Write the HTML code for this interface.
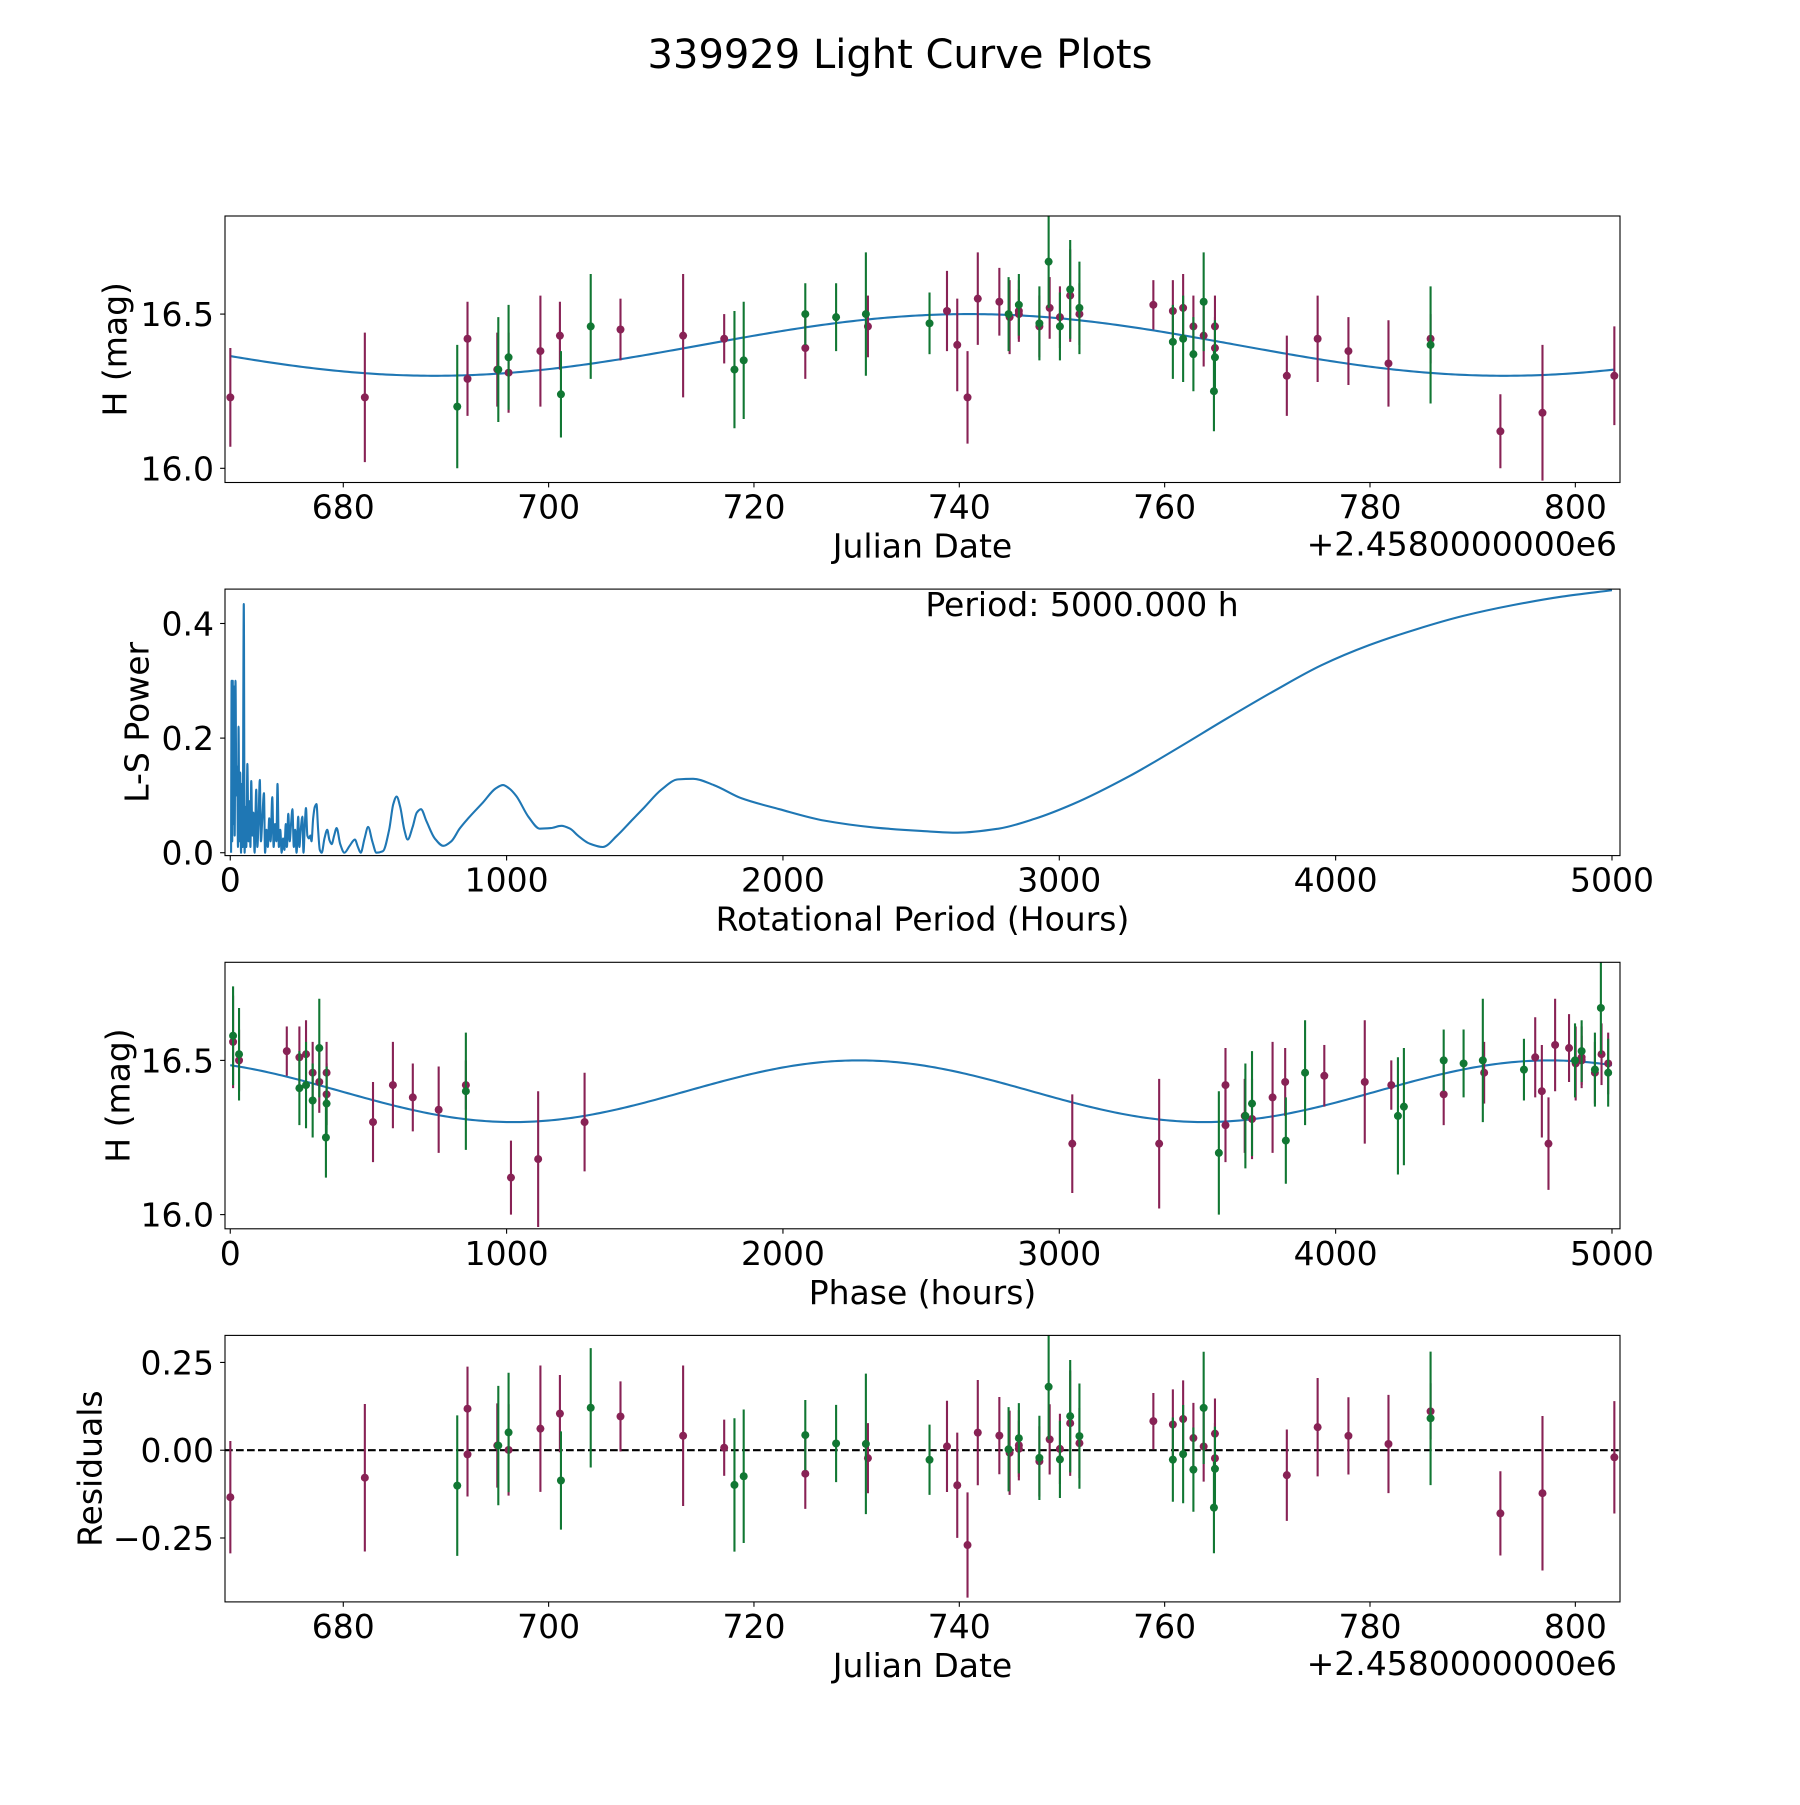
<!DOCTYPE html>
<html><head><meta charset="utf-8"><style>
html,body{margin:0;padding:0;background:#fff}
svg text{font-family:"DejaVu Sans","Liberation Sans",sans-serif;fill:#000}
</style></head><body>
<svg id="fig" width="1800" height="1800" viewBox="0 0 1800 1800" xmlns="http://www.w3.org/2000/svg">
<rect width="1800" height="1800" fill="#fff"/>
<text x="900" y="68" font-size="40" text-anchor="middle">339929 Light Curve Plots</text>
</svg>
<script>
// ---- data ----
const jdR = [669.0,682.1,692.1,692.1,695.0,696.1,699.2,701.1,707.0,713.1,717.1,725.0,731.1,738.8,739.8,740.8,741.8,743.9,744.9,745.8,745.8,747.8,748.8,749.8,750.8,751.7,758.9,760.8,761.8,762.8,763.8,764.9,764.9,771.9,774.9,777.9,781.8,785.9,792.7,796.8,803.8];
const magR = [16.23,16.23,16.42,16.29,16.32,16.31,16.38,16.43,16.45,16.43,16.42,16.39,16.46,16.51,16.40,16.23,16.55,16.54,16.49,16.51,16.50,16.46,16.52,16.49,16.56,16.50,16.53,16.51,16.52,16.46,16.43,16.46,16.39,16.30,16.42,16.38,16.34,16.42,16.12,16.18,16.30];
const errR = [.16,.21,.12,.12,.12,.13,.18,.11,.10,.20,.08,.10,.10,.13,.15,.15,.15,.11,.12,.10,.08,.10,.10,.10,.15,.10,.08,.10,.11,.10,.10,.10,.10,.13,.14,.11,.14,.08,.12,.22,.16];
const jdG = [691.1,695.1,696.1,701.2,704.1,718.1,719.0,725.0,728.0,730.9,737.1,744.8,745.8,747.8,748.7,749.8,750.8,751.7,760.8,761.8,762.8,763.8,764.9,764.8,785.9];
const magG = [16.20,16.32,16.36,16.24,16.46,16.32,16.35,16.50,16.49,16.50,16.47,16.50,16.53,16.47,16.67,16.46,16.58,16.52,16.41,16.42,16.37,16.54,16.36,16.25,16.40];
const errG = [.20,.17,.17,.14,.17,.19,.19,.10,.11,.20,.10,.12,.10,.12,.15,.11,.16,.15,.12,.14,.12,.16,.12,.13,.19];
const modelMean = 16.40, modelAmp = 0.10, modelTmax = 741.0, modelPeriodDays = 104.17;
const phaseRefJD = 669.0, phaseRefHours = 3047, foldPeriodHours = 5000;
const lsPeriods = [3,5,7,9,11,14,16,19,22,25,28,30,33,36,39,42,45,49,52,55,58,62,66,70,73,76,80,84,88,94,98,102,107,111,116,122,126,131,136,141,146,152,157,162,167,171,176,181,186,191,196,201,205,210,215,220,225,230,235,240,246,250,255,261,265,270,274,279,285,290,294,300,306,312,318,324,331,341,351,359,367,376,385,398,413,432,451,462,472,486,499,514,529,553,575,590,602,615,630,642,660,675,690,710,740,771,800,830,861,915,960,987,1010,1035,1080,1120,1160,1198,1230,1258,1300,1348,1400,1450,1498,1560,1620,1675,1750,1850,1987,2150,2332,2500,2633,2780,2910,3050,3255,3430,3602,3780,3948,4120,4293,4460,4641,4820,5000];
const lsPower = [0.0,0.30,0.02,0.30,0.05,0.29,0.03,0.30,0.1,0.15,0.01,0.22,0.02,0.14,0.0,0.12,0.01,0.434,0.0,0.08,0.01,0.155,0.02,0.09,0.01,0.125,0.03,0.07,0.0,0.11,0.01,0.05,0.127,0.02,0.06,0.104,0.0,0.04,0.01,0.06,0.02,0.097,0.01,0.05,0.02,0.12,0.01,0.04,0.0,0.025,0.005,0.05,0.01,0.068,0.02,0.05,0.076,0.01,0.04,0.0,0.063,0.01,0.04,0.063,0.0,0.05,0.078,0.03,0.025,0.03,0.02,0.06,0.08,0.085,0.04,0.005,0.0,0.025,0.04,0.022,0.015,0.03,0.043,0.015,0.0,0.012,0.023,0.01,0.0,0.025,0.045,0.02,0.0,0.003,0.04,0.085,0.098,0.08,0.04,0.023,0.045,0.07,0.076,0.055,0.025,0.012,0.02,0.042,0.06,0.088,0.112,0.118,0.112,0.099,0.062,0.042,0.043,0.047,0.042,0.03,0.016,0.01,0.03,0.055,0.079,0.11,0.128,0.129,0.118,0.095,0.076,0.056,0.044,0.038,0.035,0.042,0.059,0.085,0.134,0.183,0.233,0.283,0.327,0.362,0.39,0.413,0.432,0.447,0.458];
const jdTicks = [680,700,720,740,760,780,800];
const hoursTicks = [0,1000,2000,3000,4000,5000];
const magTicks = [16.0,16.5];
const powerTicks = [0.0,0.2,0.4];
const residTicks = [-0.25,0.0,0.25];

// ---- helpers ----
const NS = "http://www.w3.org/2000/svg";
const svg = document.getElementById('fig');
const COL_R = "#882255", COL_G = "#117733", COL_LINE = "#1f77b4";
const FS = 33;
function el(tag, attrs, parent){ const e=document.createElementNS(NS,tag); for(const k in attrs) e.setAttribute(k,attrs[k]); (parent||svg).appendChild(e); return e; }
function model(t){ return modelMean + modelAmp*Math.cos(2*Math.PI*(t-modelTmax)/modelPeriodDays); }
function phaseOf(t){ let p=((t-phaseRefJD)*24+phaseRefHours)%foldPeriodHours; if(p<0)p+=foldPeriodHours; return p; }
function jdOfPhase(p){ return phaseRefJD + (p-phaseRefHours)/24; }
function fmt(v,d){ const s=v.toFixed(d); return v<0 ? '\u2212'+s.slice(1) : s; }

const L=225, R=1620, H=266.5;
function makeAxes(idx, top, xmin, xmax, ymin, ymax, xticks, xdec, yticks, ydec, xlabel, ylabel, ylabelX, offsetText){
  const bottom = top+H;
  const sx = v => L + (v-xmin)/(xmax-xmin)*(R-L);
  const sy = v => bottom - (v-ymin)/(ymax-ymin)*H;
  const g = el('g',{});
  
  
  const cp = el('clipPath',{id:'clip'+idx},g);
  el('rect',{x:L,y:top,width:R-L,height:H},cp);
  const plot = el('g',{'clip-path':'url(#clip'+idx+')'},g);
  
  
  const frame = el('rect',{x:L,y:top,width:R-L,height:H,fill:'none',stroke:'#000','stroke-width':1.1},g);
  
  
  xticks.forEach(v=>{
    const x=sx(v);
    el('line',{x1:x,x2:x,y1:bottom,y2:bottom+4.9,stroke:'#000','stroke-width':1.1},g);
    const t=el('text',{x:x,y:bottom+36,'font-size':FS,'text-anchor':'middle'},g);
    t.textContent=fmt(v,xdec);
    
    
  });
  yticks.forEach(v=>{
    const y=sy(v);
    el('line',{x1:L-4.9,x2:L,y1:y,y2:y,stroke:'#000','stroke-width':1.1},g);
    const t=el('text',{x:214,y:y+12,'font-size':FS,'text-anchor':'end'},g);
    t.textContent=fmt(v,ydec);
    
    
  });
  const xl=el('text',{x:(L+R)/2,y:bottom+75,'font-size':FS,'text-anchor':'middle'},g);
  xl.textContent=xlabel;
  
  
  const cy=(top+bottom)/2;
  const yl=el('text',{x:ylabelX,y:cy,'font-size':FS,'text-anchor':'middle','dominant-baseline':'central',transform:'rotate(-90 '+ylabelX+' '+cy+')'},g);
  yl.textContent=ylabel;
  
  
  if(offsetText){
    const ot=el('text',{x:1617,y:bottom+73,'font-size':FS,'text-anchor':'end'},g);
    ot.textContent=offsetText;
    
    
  }
  return {sx,sy,plot,g,top,bottom};
}
function drawPoints(ax, xs, ys, es, col, name){
  xs.forEach((xv,i)=>{
    const x=ax.sx(xv), y=ax.sy(ys[i]);
    const bar=el('line',{x1:x,x2:x,y1:ax.sy(ys[i]+es[i]),y2:ax.sy(ys[i]-es[i]),stroke:col,'stroke-width':2.1},ax.plot);
    
    
    const c=el('circle',{cx:x,cy:y,r:4,fill:col},ax.plot);
    
    
  });
}
function curvePath(ax, fx, x0, x1, n){
  let d='';
  for(let i=0;i<=n;i++){ const v=x0+(x1-x0)*i/n; d+=(i?'L':'M')+ax.sx(v).toFixed(2)+' '+ax.sy(fx(v)).toFixed(2); }
  return d;
}
// monotone cubic path through pixel points (Fritsch-Carlson), for smooth rendering
function monotonePath(px, py){
  const n=px.length, dx=[], m=[], t=new Array(n);
  for(let i=0;i<n-1;i++){ dx.push(px[i+1]-px[i]); m.push((py[i+1]-py[i])/(px[i+1]-px[i])); }
  t[0]=m[0]; t[n-1]=m[n-2];
  for(let i=1;i<n-1;i++){ t[i]=(m[i-1]*m[i]<=0)?0:3*(dx[i-1]+dx[i])/((2*dx[i]+dx[i-1])/m[i-1]+(dx[i]+2*dx[i-1])/m[i]); }
  let d='M'+px[0].toFixed(2)+' '+py[0].toFixed(2);
  for(let i=0;i<n-1;i++){
    const h=dx[i]/3;
    d+='C'+(px[i]+h).toFixed(2)+' '+(py[i]+t[i]*h).toFixed(2)+' '+(px[i+1]-h).toFixed(2)+' '+(py[i+1]-t[i+1]*h).toFixed(2)+' '+px[i+1].toFixed(2)+' '+py[i+1].toFixed(2);
  }
  return d;
}

// ---- panel 1: light curve vs JD ----
const ax1 = makeAxes(1, 216, 668.48, 804.35, 15.954, 16.818, jdTicks, 0, magTicks, 1, 'Julian Date', 'H (mag)', 115, '+2.4580000000e6');
const m1=el('path',{d:curvePath(ax1, model, 669.0, 803.8, 400),fill:'none',stroke:COL_LINE,'stroke-width':2.1},ax1.plot);


drawPoints(ax1, jdR, magR, errR, COL_R, 'band-r');
drawPoints(ax1, jdG, magG, errG, COL_G, 'band-g');

// ---- panel 2: periodogram ----
const ax2 = makeAxes(2, 589.1, -19, 5029, -0.005, 0.46, hoursTicks, 0, powerTicks, 1, 'Rotational Period (Hours)', 'L-S Power', 137, null);
const ls=el('path',{d:monotonePath(lsPeriods.map(ax2.sx), lsPower.map(ax2.sy)),fill:'none',stroke:COL_LINE,'stroke-width':2.1,'stroke-linejoin':'round'},ax2.plot);


const pt=el('text',{x:1082,y:616,'font-size':FS,'text-anchor':'middle'},ax2.g);
pt.textContent='Period: 5000.000 h';



// ---- panel 3: phase-folded ----
const ax3 = makeAxes(3, 962.3, -19, 5029, 15.954, 16.818, hoursTicks, 0, magTicks, 1, 'Phase (hours)', 'H (mag)', 118, null);
const m3=el('path',{d:curvePath(ax3, p=>model(jdOfPhase(p)), 0, 5000, 400),fill:'none',stroke:COL_LINE,'stroke-width':2.1},ax3.plot);


drawPoints(ax3, jdR.map(phaseOf), magR, errR, COL_R, 'band-r-phase');
drawPoints(ax3, jdG.map(phaseOf), magG, errG, COL_G, 'band-g-phase');

// ---- panel 4: residuals ----
const ax4 = makeAxes(4, 1335.4, 668.48, 804.35, -0.432, 0.327, jdTicks, 0, residTicks, 2, 'Julian Date', 'Residuals', 90, '+2.4580000000e6');
const zl=el('line',{x1:L,x2:R,y1:ax4.sy(0),y2:ax4.sy(0),stroke:'#000','stroke-width':2.1,'stroke-dasharray':'7.7 3.3'},ax4.plot);


drawPoints(ax4, jdR, magR.map((m,i)=>m-model(jdR[i])), errR, COL_R, 'band-r-residual');
drawPoints(ax4, jdG, magG.map((m,i)=>m-model(jdG[i])), errG, COL_G, 'band-g-residual');
</script>
</body></html>
